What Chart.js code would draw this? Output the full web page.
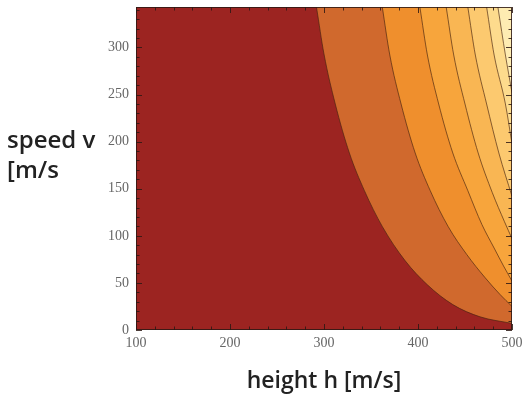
<!DOCTYPE html>
<html><head><meta charset="utf-8">
<script src="https://cdn.jsdelivr.net/npm/chart.js@4.4.0/dist/chart.umd.min.js"></script>
<style>
html,body{margin:0;padding:0;background:#fff;}
#wrap{position:relative;width:524px;height:396px;}
#ytitle{position:absolute;left:7px;top:124px;font-family:"Open Sans",sans-serif;font-weight:600;font-size:24px;line-height:30px;color:#222;white-space:nowrap;}
</style></head><body>
<div id="wrap"><canvas id="c" width="524" height="396"></canvas><div id="ytitle">speed v<br>[m/s</div></div>
<script>
// axis ranges and tick labels
const hRange = [100, 500];
const vRange = [0, 343];
const hTicks = [100, 200, 300, 400, 500];
const vTicks = [0, 50, 100, 150, 200, 250, 300];

// contour lines: height h and speed v
const c1H = [292, 300, 312, 327, 343, 362, 386, 410, 437, 466, 500];
const c1V = [343, 293, 240, 188, 148, 110, 74, 48, 27, 14, 7];
const c2H = [362, 370, 382, 397, 413, 432, 452, 471, 487, 500];
const c2V = [343, 292, 240, 188, 148, 110, 80, 56, 38, 25];
const c3H = [402, 410, 422, 437, 453, 468, 481, 491, 500];
const c3V = [343, 292, 240, 188, 148, 112, 87, 68, 52];
const c4H = [430, 438, 450, 464, 479, 492, 500];
const c4V = [343, 292, 240, 188, 146, 115, 97];
const c5H = [453, 461, 473, 486, 500];
const c5V = [343, 292, 240, 188, 142];
const c6H = [473, 481, 493, 500];
const c6V = [343, 292, 240, 198];
const c7H = [485, 493, 500];
const c7V = [343, 292, 252];

const regionColors = ['#9c2421', '#d0692d', '#ef8f2d', '#f7a53c', '#f9b653', '#fcc96f', '#fddb8d', '#feecb2'];

const contours = [[c1H, c1V], [c2H, c2V], [c3H, c3V], [c4H, c4V], [c5H, c5V], [c6H, c6V], [c7H, c7V]];

const datasets = [{
  data: [{x: hRange[0], y: vRange[0]}, {x: hRange[1], y: vRange[0]}],
  fill: 'end', backgroundColor: regionColors[0], borderWidth: 0, pointRadius: 0, pointHoverRadius: 0, order: 50
}];
contours.forEach(([hs, vs], i) => {
  datasets.push({
    data: hs.map((h, j) => ({x: h, y: vs[j]})),
    fill: 'end',
    backgroundColor: regionColors[i + 1],
    borderColor: 'rgba(70,35,15,0.65)',
    borderWidth: 1,
    pointRadius: 0,
    pointHoverRadius: 0,
    cubicInterpolationMode: 'monotone',
    order: 40 - i
  });
});

const framePlugin = {
  id: 'frame',
  afterDatasetsDraw(chart) {
    const {ctx, chartArea: a, scales: {x, y}} = chart;
    ctx.save();
    ctx.strokeStyle = 'rgba(45,25,20,0.85)';
    ctx.lineWidth = 1;
    ctx.strokeRect(a.left + 0.5, a.top + 0.5, a.width - 1, a.height - 1);
    ctx.beginPath();
    for (let h = hRange[0]; h <= hRange[1]; h += 20) {
      const px = Math.round(x.getPixelForValue(h)) + 0.5;
      const len = h % 100 === 0 ? 6 : 3.5;
      ctx.moveTo(px, a.bottom); ctx.lineTo(px, a.bottom - len);
      ctx.moveTo(px, a.top); ctx.lineTo(px, a.top + len);
    }
    for (let v = vRange[0]; v <= vRange[1]; v += 10) {
      const py = Math.round(y.getPixelForValue(v)) + 0.5;
      const len = v % 50 === 0 ? 6 : 3.5;
      ctx.moveTo(a.left, py); ctx.lineTo(a.left + len, py);
      ctx.moveTo(a.right, py); ctx.lineTo(a.right - len, py);
    }
    ctx.stroke();
    ctx.restore();
  }
};

new Chart(document.getElementById('c'), {
  type: 'line',
  data: {datasets},
  plugins: [framePlugin],
  options: {
    responsive: false, animation: false, devicePixelRatio: 1,
    layout: {autoPadding: false, padding: {left: 0, right: 12, top: 7, bottom: 0}},
    plugins: {legend: {display: false}, tooltip: {enabled: false}},
    scales: {
      x: {
        type: 'linear', min: hRange[0], max: hRange[1],
        afterBuildTicks: s => { s.ticks = hTicks.map(v => ({value: v})); },
        afterFit: s => { s.height = 66; s.paddingLeft = 0; s.paddingRight = 0; },
        grid: {display: false, drawTicks: false},
        border: {display: false},
        ticks: {padding: 6, autoSkip: false, maxRotation: 0, color: '#666', font: {family: 'Liberation Serif', size: 14, lineHeight: 1}},
        title: {display: true, text: 'height h [m/s]', color: '#222', font: {family: 'Open Sans', size: 23, weight: 600}, padding: {top: 0, bottom: 1}}
      },
      y: {
        type: 'linear', min: vRange[0], max: vRange[1],
        afterBuildTicks: s => { s.ticks = vTicks.map(v => ({value: v})); },
        afterFit: s => { s.width = 136; s.paddingTop = 0; s.paddingBottom = 0; },
        grid: {display: false, drawTicks: false},
        border: {display: false},
        ticks: {padding: 7, autoSkip: false, color: '#666', font: {family: 'Liberation Serif', size: 14, lineHeight: 1}}
      }
    }
  }
});
</script>
</body></html>
